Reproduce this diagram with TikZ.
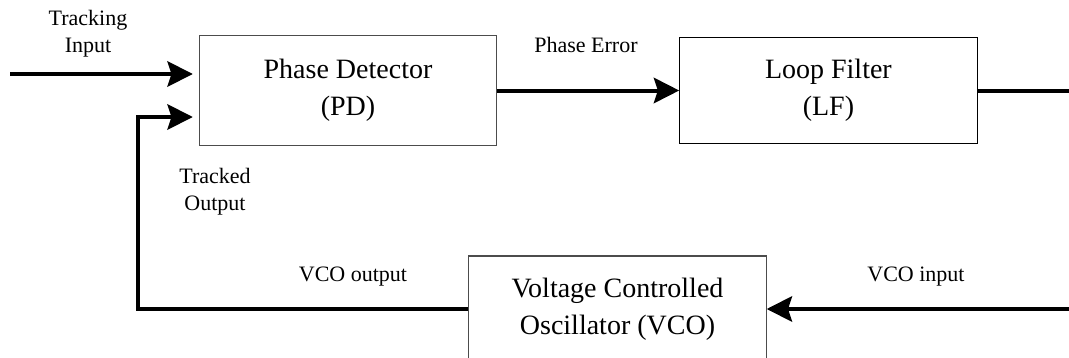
\documentclass[tikz,border=0pt]{standalone}
\usepackage{fontspec}
\setmainfont{Liberation Serif}
\usetikzlibrary{positioning,calc,arrows.meta}

\begin{document}
\begin{tikzpicture}[
    x=0.75pt, y=-0.75pt,
    node distance=136.5pt,
    box/.style={rectangle, draw=black!70, line width=0.8pt, align=center, minimum width=223pt, minimum height=79.5pt, inner sep=0pt, font=\fontsize{21}{28}\selectfont},
    lbl/.style={align=center, inner sep=0pt, font=\fontsize{16.5}{20}\selectfont},
    wire/.style={line width=3pt, color=black},
    arrow/.style={wire, -{Stealth[length=19pt, width=19pt, inset=3pt]}}
]

    % frame of the picture
    \clip (0,0) rectangle (1069,357);
    \fill[white] (0,0) rectangle (1069,357);

    % Blocks
    \node[box, minimum height=83pt] (pd) at (348,90.5) {Phase Detector\\(PD)};
    \node[box, draw=black, right=of pd] (lf) {Loop Filter\\(LF)};
    \node[box] (vco) at (617.5,309) {Voltage Controlled\\Oscillator (VCO)};

    % free ends of the wires
    \coordinate (trackin) at (10,74);
    \coordinate (lfout) at (1069,90.5);
    \coordinate (vcoin) at (1069,309);
    \coordinate (corner) at (138,309);
    \coordinate (fback) at (138,117);

    % Labels
    \node[lbl] (trackinlbl) at (88,34) {Tracking\\Input};
    \node[lbl] (perrlbl) at (586,45) {Phase Error};
    \node[lbl] (trackoutlbl) at (215,192) {Tracked\\Output};
    \node[lbl] (vcooutlbl) at (353,277) {VCO output};
    \node[lbl] (vcoinlbl) at (916,277) {VCO input};

    % Wires
    \draw[arrow, shorten >=4.5pt] (trackin) -- (trackin -| pd.west);
    \draw[arrow] (pd) -- (lf);
    \draw[wire] (lf.east) -- (lfout);
    \draw[arrow] (vcoin) -- (vco.east);
    \draw[arrow, shorten >=4.5pt] (vco.west) -- (corner) -- (fback) -- (fback -| pd.west);

\end{tikzpicture}
\end{document}
